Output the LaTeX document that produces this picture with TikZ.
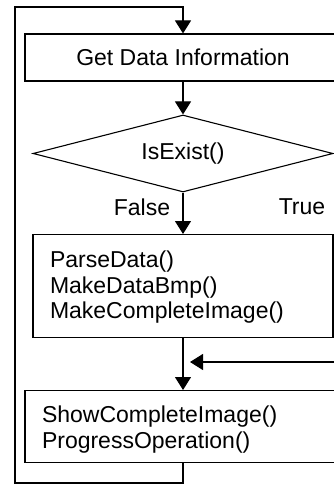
\documentclass[tikz,border=0pt]{standalone}
\usepackage{fontspec}
\setmainfont{Liberation Sans}
\usetikzlibrary{shapes.geometric,arrows.meta}

\begin{document}
\begin{tikzpicture}[x=1pt,y=-1pt,line width=1.1pt,
  every node/.style={font=\fontsize{23}{25.5}\selectfont},
  Box/.style={draw,rectangle,inner sep=0pt},
  Arrow/.style={-{Triangle[length=13pt,width=16pt]}}]
\useasboundingbox (0,0) rectangle (334,484);
\clip (0,0) rectangle (334,484);
\node[Box,minimum width=316pt,minimum height=47pt] (GetInfo) at (183,57.5) {Get Data Information};
\node[draw,diamond,aspect=3.9,minimum width=300pt,minimum height=77pt,inner sep=0pt] (IsExist) at (183,153.5) {IsExist()};
\node (False) at (142,207) {False};
\node (True) at (302,207) {True};
\node[Box,anchor=north,minimum width=300pt,text width=266pt,align=left] (Parse) at (183,234)
  {\rule{0pt}{33pt}ParseData()\\MakeDataBmp()\\MakeCompleteImage()\rule[-18.5pt]{0pt}{0pt}};
\node[Box,anchor=north,minimum width=316pt,text width=282pt,align=left] (Show) at (183,390)
  {\rule{0pt}{32pt}ShowCompleteImage()\\ProgressOperation()\rule[-14pt]{0pt}{0pt}};
\coordinate (BackIn) at (340,362);
\coordinate (BackTip) at (190,362);
\coordinate (LoopDown) at (15,483);
\coordinate (LoopUp) at (15,7);
\draw[Arrow] (GetInfo.south) -- (IsExist.north);
\draw[Arrow] (IsExist.south) -- (Parse.north);
\draw[Arrow] (Parse.south) -- (Show.north);
\draw[Arrow] (BackIn) -- (BackTip);
\draw[Arrow] (Show.south) |- (LoopDown) -- (LoopUp) -| (GetInfo.north);
\end{tikzpicture}
\end{document}
